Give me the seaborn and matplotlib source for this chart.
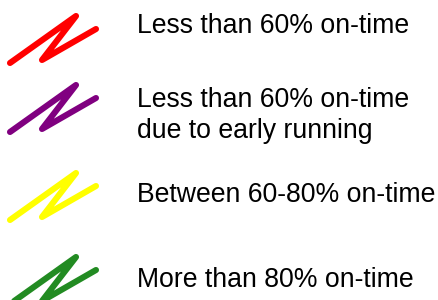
import numpy as np
import pandas as pd
import seaborn as sns
import matplotlib.pyplot as plt

# legend entries
labels = ["Less than 60% on-time",
          "Less than 60% on-time\ndue to early running",
          "Between 60-80% on-time",
          "More than 80% on-time"]
colors = ["#ff0000", "#800080", "#ffff00", "#228b22"]

# zigzag glyph shape (pixels, relative to its top point)
glyph_x = np.array([10, 76, 42, 96])
glyph_y = np.array([47, 0, 44, 13])
glyph_top = [16, 85, 173, 257]
# baseline of the last line of each label
text_base = [33, 138, 202, 287]

sns.set_style("white")
plt.rcParams["font.family"] = ["Liberation Sans", "DejaVu Sans"]

fig = plt.figure(figsize=(4.39, 3.0), dpi=100)
ax = fig.add_axes([0, 0, 1, 1])

for i in range(len(labels)):
    df = pd.DataFrame({"x": glyph_x, "y": glyph_y + glyph_top[i]})
    sns.lineplot(data=df, x="x", y="y", sort=False, estimator=None, ax=ax,
                 color=colors[i], linewidth=4.4, solid_capstyle="round",
                 solid_joinstyle="round")
    ax.text(137, text_base[i], labels[i], fontsize=19.2, color="black",
            va="baseline", ha="left", linespacing=1.26)

ax.set_xlim(0, 439)
ax.set_ylim(300, 0)
ax.axis("off")
fig.savefig("out.png", dpi=100)
